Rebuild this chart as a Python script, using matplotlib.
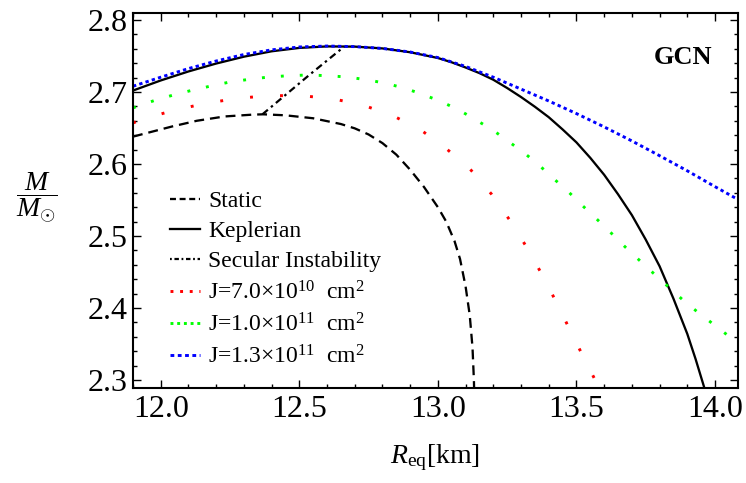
import matplotlib
matplotlib.use('Agg')
import matplotlib.pyplot as plt
from matplotlib.lines import Line2D
from matplotlib.ticker import MultipleLocator, FormatStrFormatter

plt.rcParams['font.family'] = ['Liberation Serif', 'DejaVu Serif']
plt.rcParams['mathtext.fontset'] = 'custom'
plt.rcParams['mathtext.rm'] = 'Liberation Serif'
plt.rcParams['mathtext.it'] = 'Liberation Serif:italic'
plt.rcParams['mathtext.bf'] = 'Liberation Serif:bold'

# static sequence
static_r = [11.90, 11.95, 12.04, 12.13, 12.23, 12.33, 12.37, 12.45, 12.55, 12.65,
            12.70, 12.75, 12.80, 12.85, 12.90, 12.95, 13.00, 13.03, 13.06, 13.08,
            13.10, 13.115, 13.125, 13.13, 13.132]
static_m = [2.638, 2.643, 2.652, 2.660, 2.666, 2.6685, 2.669, 2.6676, 2.6635, 2.6555,
            2.6495, 2.641, 2.629, 2.613, 2.592, 2.568, 2.540, 2.520, 2.493, 2.468,
            2.430, 2.390, 2.345, 2.300, 2.270]

# keplerian (mass shedding) sequence
kep_r = [11.90, 12.0, 12.1, 12.2, 12.3, 12.4, 12.5, 12.6, 12.7, 12.8,
         12.9, 13.0, 13.05, 13.1, 13.15, 13.2, 13.25, 13.3, 13.35, 13.4,
         13.45, 13.5, 13.55, 13.6, 13.65, 13.7, 13.75, 13.8, 13.85, 13.9,
         13.93, 13.96, 13.98]
kep_m = [2.702, 2.716, 2.7285, 2.7395, 2.749, 2.7565, 2.7612, 2.7633, 2.763, 2.7605,
         2.7552, 2.7472, 2.7412, 2.734, 2.7262, 2.717, 2.7055, 2.693, 2.6795, 2.665,
         2.648, 2.630, 2.6085, 2.585, 2.558, 2.529, 2.495, 2.458, 2.413, 2.364,
         2.329, 2.291, 2.263]

# secular instability line
sec_r = [12.367, 12.536, 12.662]
sec_m = [2.669, 2.7236, 2.763]

# constant J sequences
j07_r = [11.90, 11.94, 12.052, 12.164, 12.277, 12.391, 12.506, 12.62, 12.732, 12.84,
         12.942, 13.032, 13.117, 13.194, 13.259, 13.32, 13.376, 13.429, 13.479, 13.53,
         13.581, 13.60]
j07_m = [2.657, 2.6629, 2.675, 2.6843, 2.6912, 2.6949, 2.6949, 2.6907, 2.6815, 2.6667,
         2.6463, 2.6208, 2.5926, 2.5579, 2.5222, 2.4847, 2.4463, 2.4069, 2.3676, 2.3282,
         2.2899, 2.275]

j10_r = [11.90, 11.976, 12.042, 12.112, 12.181, 12.25, 12.32, 12.39, 12.461, 12.532,
         12.602, 12.672, 12.743, 12.813, 12.882, 12.948, 13.012, 13.076, 13.138, 13.198,
         13.256, 13.313, 13.367, 13.419, 13.472, 13.523, 13.573, 13.624, 13.675, 13.726,
         13.778, 13.831, 13.883, 13.937, 13.993, 14.049, 14.12]
j10_m = [2.678, 2.688, 2.6954, 2.7023, 2.7083, 2.7139, 2.7176, 2.7208, 2.7226, 2.7236,
         2.7226, 2.7208, 2.717, 2.712, 2.705, 2.6963, 2.6866, 2.675, 2.661, 2.6472,
         2.631, 2.6149, 2.5977, 2.5792, 2.561, 2.5417, 2.5236, 2.5046, 2.4851, 2.4667,
         2.4482, 2.4296, 2.4115, 2.3944, 2.3778, 2.3611, 2.340]

j13_r = [11.90, 12.0, 12.1, 12.2, 12.3, 12.4, 12.5, 12.6, 12.7, 12.8,
         12.9, 13.0, 13.1, 13.2, 13.3, 13.4, 13.5, 13.6, 13.7, 13.8,
         13.9, 14.0, 14.1, 14.15]
j13_m = [2.708, 2.7205, 2.7325, 2.743, 2.752, 2.7585, 2.7625, 2.7638, 2.763, 2.7605,
         2.7555, 2.7478, 2.7355, 2.7205, 2.704, 2.6875, 2.670, 2.6515, 2.632, 2.6115,
         2.5905, 2.5685, 2.547, 2.536]

labels = ['Static', 'Keplerian', 'Secular Instability',
          r'J=7.0×10$^{\mathrm{10}}$  cm$^{\mathrm{2}}$',
          r'J=1.0×10$^{\mathrm{11}}$  cm$^{\mathrm{2}}$',
          r'J=1.3×10$^{\mathrm{11}}$  cm$^{\mathrm{2}}$']

fig = plt.figure(figsize=(7.46, 4.83), dpi=100)
ax = fig.add_axes([0.1783, 0.1967, 0.811, 0.7764])

ax.plot(static_r, static_m, color='black', lw=1.65, ls=(0, (4.3, 2.6)))
ax.plot(kep_r, kep_m, color='black', lw=1.65, ls='-')
ax.plot(sec_r, sec_m, color='black', lw=1.6, ls=(0, (3.2, 1.8, 1.1, 1.8)))
ax.plot(j07_r, j07_m, color='#ff0000', lw=2.1, ls=(0, (1.0, 9.3)))
ax.plot(j10_r, j10_m, color='#00ff00', lw=2.1, ls=(0, (1.0, 5.5)))
ax.plot(j13_r, j13_m, color='#0000ff', lw=2.1, ls=(0, (1.15, 1.1)))

ax.set_xlim(11.9, 14.083)
ax.set_ylim(2.2889, 2.8097)
ax.xaxis.set_major_locator(MultipleLocator(0.5))
ax.xaxis.set_minor_locator(MultipleLocator(0.1))
ax.yaxis.set_major_locator(MultipleLocator(0.1))
ax.yaxis.set_minor_locator(MultipleLocator(0.02))
ax.xaxis.set_major_formatter(FormatStrFormatter('%.1f'))
ax.yaxis.set_major_formatter(FormatStrFormatter('%.1f'))
ax.tick_params(which='both', direction='in', top=True, right=True, width=1.0)
ax.tick_params(which='major', length=5.5, labelsize=23, pad=4)
ax.tick_params(which='minor', length=3)
ax.tick_params(axis='x', which='major', pad=5)
for s in ax.spines.values():
    s.set_linewidth(1.5)

ax.set_xlabel(r'$R_{\mathrm{eq}}$[km]', fontsize=20, va='center')
ax.xaxis.set_label_coords(0.499, -0.187)
ax.set_ylabel(r'$\dfrac{M}{M_{\odot}}$', fontsize=20, rotation=0, va='center', ha='center')
ax.yaxis.set_label_coords(-0.159, 0.507)

ax.text(0.909, 0.881, 'GCN', transform=ax.transAxes, fontsize=19,
        fontweight='bold', ha='center', va='center')

handles = [
    Line2D([], [], color='black', lw=1.65, ls=(0, (2.6, 1.6))),
    Line2D([], [], color='black', lw=1.65, ls='-'),
    Line2D([], [], color='black', lw=1.6, ls=(0, (0.8, 1.2, 2.0, 1.2))),
    Line2D([], [], color='#ff0000', lw=2.1, ls=(0, (1.0, 2.3))),
    Line2D([], [], color='#00ff00', lw=2.1, ls=(0, (1.0, 1.3))),
    Line2D([], [], color='#0000ff', lw=2.1, ls=(0, (1.3, 1.2))),
]
ax.legend(handles, labels, loc='upper left', bbox_to_anchor=(0.061, 0.527),
          frameon=False, fontsize=17, borderpad=0, borderaxespad=0,
          handlelength=1.28, handletextpad=0.34, labelspacing=0.37)

fig.savefig('out.png', dpi=100)
